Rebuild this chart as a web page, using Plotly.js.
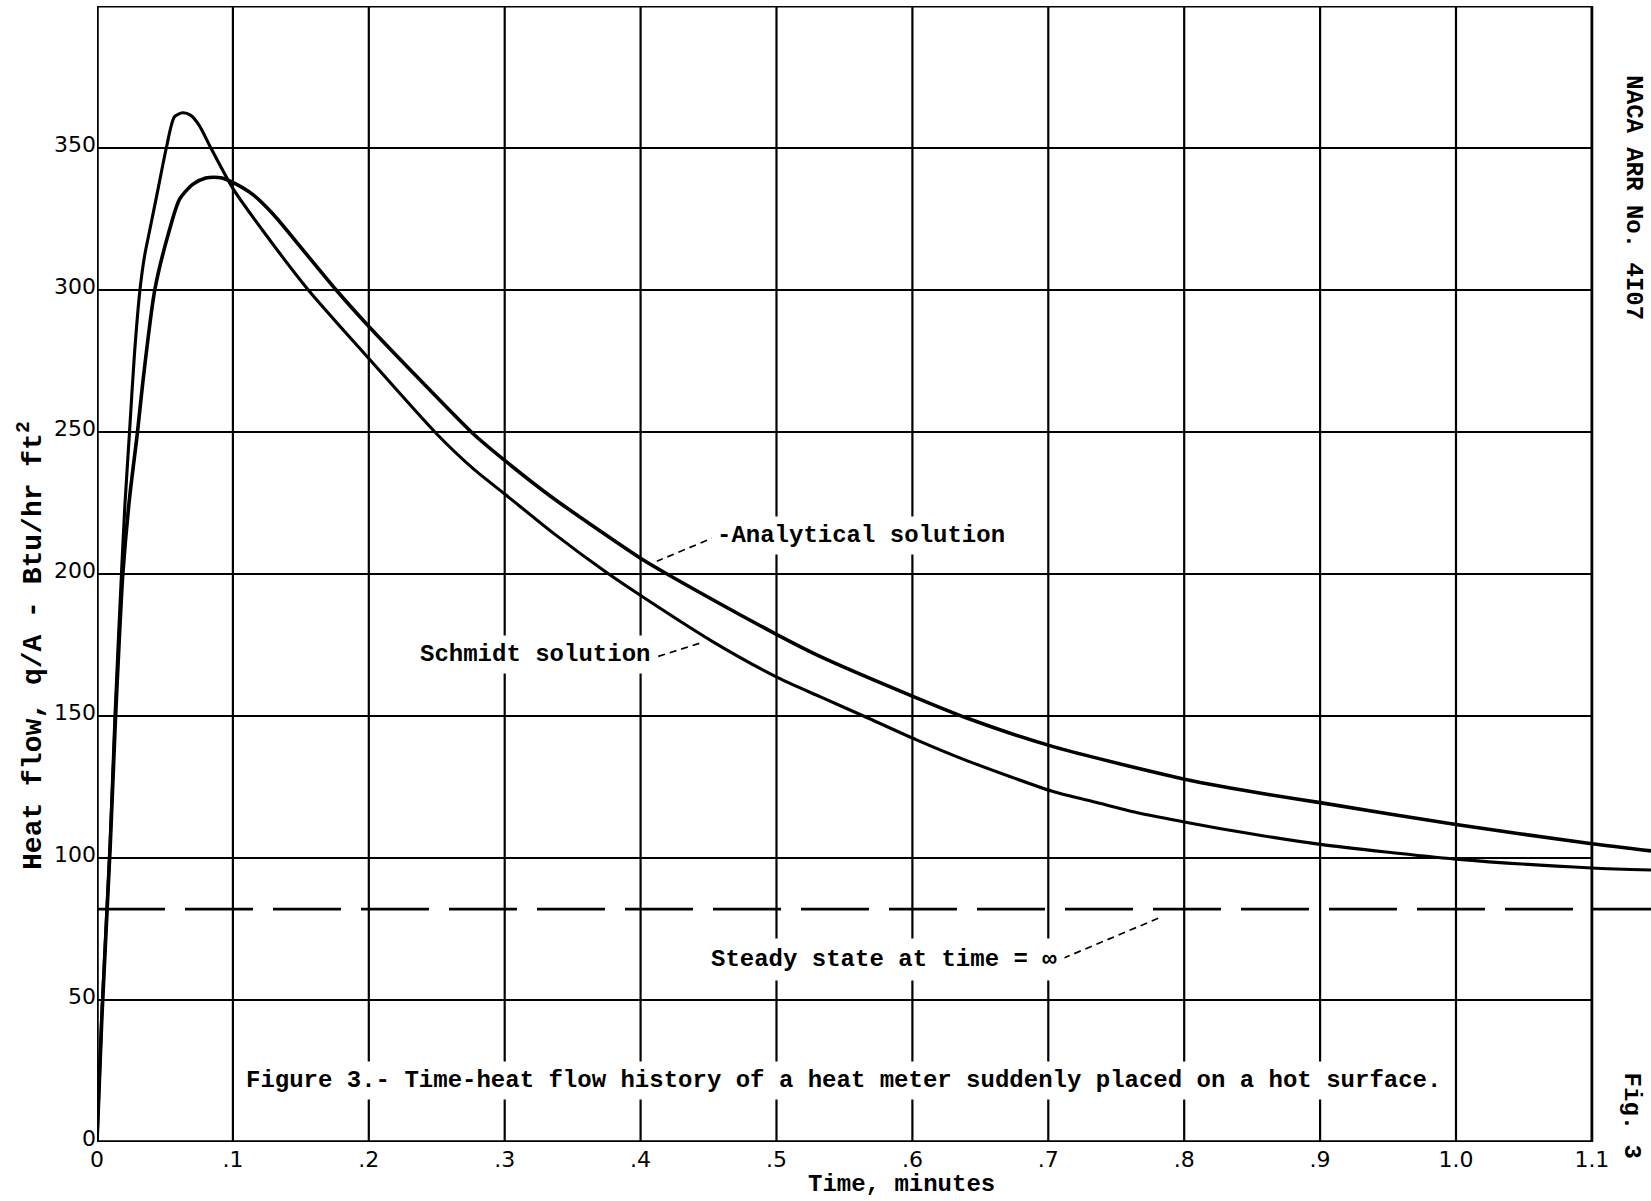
<!DOCTYPE html>
<html>
<head>
<meta charset="utf-8">
<script src="https://cdn.plot.ly/plotly-3.0.1.min.js"></script>
<style>
  html, body { margin: 0; padding: 0; background: #ffffff; }
  #chart { width: 1651px; height: 1201px; }
</style>
</head>
<body>
<div id="chart"></div>
<script>
// ---- Data ----
// Time, minutes / Heat flow q/A (Btu/hr ft^2)
const schmidtT = [0, 0.0035, 0.0096, 0.0132, 0.018, 0.0205, 0.0238, 0.0275, 0.0316, 0.035, 0.0389, 0.0449, 0.051, 0.057, 0.063, 0.069, 0.0753, 0.0838, 0.1003, 0.1214, 0.1555, 0.1992, 0.2502, 0.277, 0.301, 0.336, 0.375, 0.402, 0.453, 0.501, 0.532, 0.564, 0.603, 0.640, 0.703, 0.735, 0.765, 0.803, 0.848, 0.900, 1.000, 1.100, 1.1435];
const schmidtQ = [0, 45, 105, 150, 200, 224, 249, 277, 300, 312, 321.3, 335.5, 350, 361, 362.4, 361.5, 357.9, 350, 335.5, 321.3, 300, 276.3, 249.2, 237, 227.8, 214.3, 200.5, 191.8, 176.2, 163.5, 156.8, 150, 141.6, 134.3, 123.5, 119.6, 116, 112.4, 108.6, 104.8, 99.6, 96.5, 95.8];

const analyticT = [0, 0.0035, 0.0098, 0.0135, 0.0165, 0.019, 0.024, 0.0298, 0.0336, 0.0425, 0.0534, 0.0607, 0.0704, 0.080, 0.086, 0.092, 0.1003, 0.115, 0.130, 0.150, 0.176, 0.1992, 0.238, 0.277, 0.300, 0.336, 0.402, 0.422, 0.501, 0.532, 0.603, 0.640, 0.703, 0.803, 0.863, 0.900, 1.000, 1.100, 1.1435];
const analyticQ = [0, 43, 105, 148, 178, 200, 227, 250, 267, 300, 321.3, 331.9, 337.2, 339.4, 339.7, 339.4, 337.8, 333.5, 326.5, 315, 300, 287.6, 268.2, 249.3, 240, 226.6, 204.9, 199.3, 178.5, 171, 156.4, 149.3, 139.3, 127.5, 122.3, 119.5, 111.8, 105, 102.5];

const steadyT = [0, 1.1435];
const steadyQ = [82, 82];

const xTickVals = [0, 0.1, 0.2, 0.3, 0.4, 0.5, 0.6, 0.7, 0.8, 0.9, 1.0, 1.1];
const xTickText = ["0", ".1", ".2", ".3", ".4", ".5", ".6", ".7", ".8", ".9", "1.0", "1.1"];
const yTickVals = [0, 50, 100, 150, 200, 250, 300, 350];
const yTickText = ["0", "50", "100", "150", "200", "250", "300", "350"];
const yTop = 400;
const xMax = 1.1;
const xView = 1.1435;

// labels
const labelAnalytical = "-Analytical solution";
const labelSchmidt = "Schmidt solution";
const labelSteady = "Steady state at time = \u221E";
const captionText = "Figure 3.- Time-heat flow history of a heat meter suddenly placed on a hot surface.";
const xTitleText = "Time, minutes";
const yTitleText = "Heat flow, q/A - Btu/hr ft<sup>2</sup>";
const sideText = "NACA ARR No. 4I07";
const figText = "Fig. 3";

// ---- Build figure ----
const monoBold = {family: "Liberation Mono, DejaVu Sans Mono, monospace", size: 24, color: "#000", weight: "bold"};
const monoBoldBig = {family: "Liberation Mono, DejaVu Sans Mono, monospace", size: 28, color: "#000", weight: "bold"};
const tickFont = {family: "DejaVu Sans, Liberation Sans, sans-serif", size: 22, color: "#000"};

const traces = [
  {x: analyticT, y: analyticQ, type: "scatter", mode: "lines", name: "Analytical solution",
   line: {color: "#000", width: 3.6, shape: "spline", smoothing: 0.7}, hoverinfo: "skip"},
  {x: schmidtT, y: schmidtQ, type: "scatter", mode: "lines", name: "Schmidt solution",
   line: {color: "#000", width: 3.1, shape: "spline", smoothing: 0.7}, hoverinfo: "skip"},
  {x: steadyT, y: steadyQ, type: "scatter", mode: "lines", name: "Steady state",
   line: {color: "#000", width: 2.6, dash: "68px,20px"}, hoverinfo: "skip"}
];

const shapes = [];
xTickVals.forEach(v => {
  shapes.push({type: "line", xref: "x", yref: "y", x0: v, x1: v, y0: 0, y1: yTop, layer: "below",
    line: {color: "#000", width: (v === 0 ? 3.5 : (v === xMax ? 2.8 : 2.2))}});
});
yTickVals.concat([yTop]).forEach(v => {
  shapes.push({type: "line", xref: "x", yref: "y", x0: 0, x1: xMax, y0: v, y1: v, layer: "below",
    line: {color: "#000", width: (v === 0 ? 3.4 : (v === yTop ? 2.8 : 2.2))}});
});
// leader lines from labels to curves
const leaders = [
  [0.457, 213.5, 0.412, 204.5],
  [0.413, 171.0, 0.446, 176.0],
  [0.711, 64.7, 0.781, 78.8]
];
leaders.forEach(l => {
  shapes.push({type: "line", xref: "x", yref: "y", x0: l[0], y0: l[1], x1: l[2], y1: l[3],
    line: {color: "#000", width: 1.7, dash: "7px,5px"}});
});

const annotations = [
  {text: labelAnalytical, x: 0.452, y: 213.5, xref: "x", yref: "y", xanchor: "left", yanchor: "middle",
   showarrow: false, font: monoBold, bgcolor: "#fff", borderpad: 5},
  {text: labelSchmidt, x: 0.411, y: 171.5, xref: "x", yref: "y", xanchor: "right", yanchor: "middle",
   showarrow: false, font: monoBold, bgcolor: "#fff", borderpad: 5},
  {text: labelSteady, x: 0.446, y: 64.1, xref: "x", yref: "y", xanchor: "left", yanchor: "middle",
   showarrow: false, font: monoBold, bgcolor: "#fff", borderpad: 7},
  {text: captionText, x: 0.105, y: 21.8, xref: "x", yref: "y", xanchor: "left", yanchor: "middle",
   showarrow: false, font: monoBold, bgcolor: "#fff", borderpad: 5},
  {text: xTitleText, x: 0.5174, y: -0.0376, xref: "paper", yref: "paper", xanchor: "center", yanchor: "middle",
   showarrow: false, font: monoBold},
  {text: yTitleText, x: -0.0425, y: 0.4375, xref: "paper", yref: "paper", xanchor: "center", yanchor: "middle",
   textangle: -90, showarrow: false, font: monoBoldBig},
  {text: sideText, x: 1.130, y: 332.4, xref: "x", yref: "y", xanchor: "center", yanchor: "middle",
   textangle: 90, showarrow: false, font: monoBold},
  {text: figText, x: 1.129, y: 9.2, xref: "x", yref: "y", xanchor: "center", yanchor: "middle",
   textangle: 90, showarrow: false, font: monoBold}
];

const layout = {
  width: 1651, height: 1201,
  margin: {l: 97, r: 0, t: 6, b: 59, pad: 0},
  paper_bgcolor: "#fff", plot_bgcolor: "#fff",
  showlegend: false,
  xaxis: {range: [0, xView], tickvals: xTickVals, ticktext: xTickText, showgrid: false, zeroline: false,
          showline: false, ticks: "", tickfont: tickFont, ticklabelstandoff: 2, fixedrange: true},
  yaxis: {range: [0, yTop], tickvals: yTickVals, ticktext: yTickText, showgrid: false, zeroline: false,
          showline: false, ticks: "", tickfont: tickFont, ticklabelstandoff: 0, ticklabelshift: -4,
          fixedrange: true},
  shapes: shapes,
  annotations: annotations
};

Plotly.newPlot("chart", traces, layout, {staticPlot: true, displayModeBar: false});
</script>
</body>
</html>
